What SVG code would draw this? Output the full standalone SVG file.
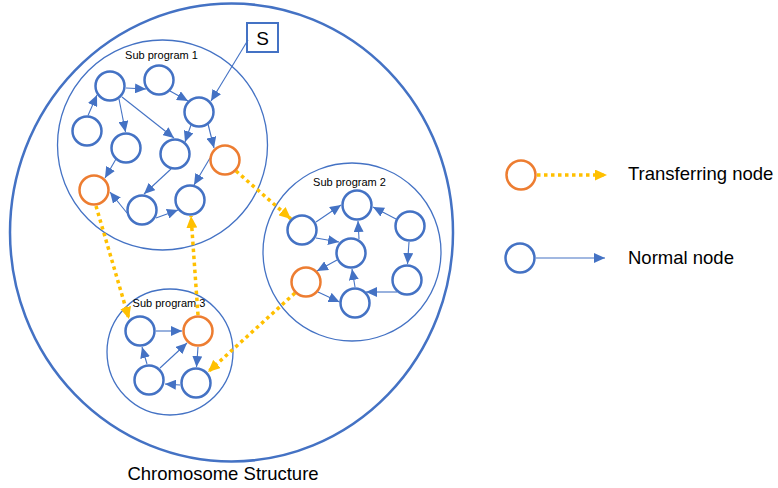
<svg xmlns="http://www.w3.org/2000/svg" width="778" height="488" viewBox="0 0 778 488">
  <style>
    .node { fill: #ffffff; stroke: #4472C4; stroke-width: 2.5; }
    .xfer { fill: #ffffff; stroke: #ED7D31; stroke-width: 2.5; }
    .sub { fill: none; stroke: #4472C4; stroke-width: 1.3; }
    .edge { fill: none; stroke: #4472C4; stroke-width: 1.1; marker-end: url(#arrow); }
    .dot { fill: none; stroke: #FFC000; stroke-width: 3.5; stroke-dasharray: 3.5 3.5; marker-end: url(#arrowY); }
    .lbl { font-family: "Liberation Sans", Arial, sans-serif; fill: #000000; }
  </style>
  <defs>
    <marker id="arrow" markerUnits="userSpaceOnUse" markerWidth="11" markerHeight="10" refX="11" refY="5" orient="auto">
      <path d="M0,0 L11,5 L0,10 Z" fill="#4472C4"/>
    </marker>
    <marker id="arrowY" markerUnits="userSpaceOnUse" markerWidth="12" markerHeight="11" refX="12" refY="5.5" orient="auto">
      <path d="M0,0 L12,5.5 L0,11 Z" fill="#FFC000"/>
    </marker>
  </defs>

  <rect width="778" height="488" fill="#ffffff"/>

  <!-- chromosome and sub-program boundaries -->
  <g id="chromosome">
    <ellipse cx="231.5" cy="232.5" rx="221.5" ry="229" fill="none" stroke="#4472C4" stroke-width="2.5"/>
    <text class="lbl" x="223" y="480" font-size="18.5" text-anchor="middle">Chromosome Structure</text>
  </g>
  <g id="sub1">
    <circle class="sub" cx="162.5" cy="145" r="105"/>
    <text class="lbl" x="161.5" y="59" font-size="11" text-anchor="middle">Sub program 1</text>
  </g>
  <g id="sub2">
    <circle class="sub" cx="352" cy="252" r="89"/>
    <text class="lbl" x="349.5" y="186" font-size="11" text-anchor="middle">Sub program 2</text>
  </g>
  <g id="sub3">
    <circle class="sub" cx="170" cy="352" r="63"/>
    <text class="lbl" x="169" y="307" font-size="11" text-anchor="middle">Sub program 3</text>
  </g>

  <!-- start box -->
  <g id="start">
    <rect x="247" y="23" width="31" height="29" fill="#ffffff" stroke="#4472C4" stroke-width="2"/>
    <text class="lbl" x="262.5" y="45" font-size="19" text-anchor="middle">S</text>
  </g>

  <!-- connectors -->
  <g id="connectors">
    <!-- sub program 1 -->
    <line class="edge" x1="88" y1="115.5" x2="97" y2="95"/>
    <line class="edge" x1="126" y1="88" x2="146" y2="89"/>
    <line class="edge" x1="170" y1="91" x2="188" y2="101"/>
    <line class="edge" x1="119" y1="99" x2="125.5" y2="132"/>
    <line class="edge" x1="122" y1="97" x2="174" y2="138"/>
    <line class="edge" x1="191" y1="125" x2="185" y2="142"/>
    <line class="edge" x1="208" y1="124" x2="214" y2="148"/>
    <line class="edge" x1="248" y1="40" x2="211" y2="101"/>
    <line class="edge" x1="116" y1="159" x2="105" y2="178"/>
    <line class="edge" x1="171" y1="169" x2="144" y2="194"/>
    <line class="edge" x1="210" y1="158" x2="194" y2="185"/>
    <line class="edge" x1="127" y1="213" x2="110" y2="192"/>
    <line class="edge" x1="156" y1="218" x2="178" y2="210"/>
    <!-- sub program 2 -->
    <line class="edge" x1="316" y1="222" x2="341" y2="205"/>
    <line class="edge" x1="316" y1="238" x2="339" y2="242"/>
    <line class="edge" x1="359" y1="239" x2="358" y2="221"/>
    <line class="edge" x1="396" y1="219" x2="373" y2="207"/>
    <line class="edge" x1="409" y1="242" x2="407.5" y2="264"/>
    <line class="edge" x1="397" y1="292" x2="366" y2="292"/>
    <line class="edge" x1="355" y1="287" x2="352" y2="269"/>
    <line class="edge" x1="337" y1="260" x2="317" y2="271"/>
    <line class="edge" x1="318" y1="292" x2="339.5" y2="302"/>
    <!-- sub program 3 -->
    <line class="edge" x1="156" y1="331" x2="182" y2="331"/>
    <line class="edge" x1="147" y1="364" x2="142" y2="347"/>
    <line class="edge" x1="160" y1="368" x2="187" y2="343"/>
    <line class="edge" x1="198" y1="347" x2="196.5" y2="367"/>
    <line class="edge" x1="180" y1="385" x2="165" y2="384"/>
    <!-- transfers between sub programs -->
    <line class="dot" x1="236" y1="171" x2="291" y2="219"/>
    <line class="dot" x1="96" y1="206" x2="129" y2="319"/>
    <line class="dot" x1="198" y1="315" x2="191" y2="216"/>
    <line class="dot" x1="295" y1="293" x2="208" y2="372"/>
    <!-- legend -->
    <line class="dot" x1="537" y1="175" x2="607" y2="175"/>
    <line class="edge" x1="536" y1="258" x2="605" y2="258"/>
  </g>

  <!-- sub program 1 nodes -->
  <g id="n1a"><circle class="node" cx="110" cy="86" r="14.5"/></g>
  <g id="n1b"><circle class="node" cx="159" cy="80" r="14.5"/></g>
  <g id="n1c"><circle class="node" cx="199" cy="112" r="14.5"/></g>
  <g id="n1d"><circle class="node" cx="87" cy="131" r="14.5"/></g>
  <g id="n1e"><circle class="node" cx="126" cy="148" r="14.5"/></g>
  <g id="n1f"><circle class="node" cx="175" cy="154" r="14.5"/></g>
  <g id="n1g"><circle class="xfer" cx="225" cy="160" r="14.5"/></g>
  <g id="n1h"><circle class="xfer" cx="94" cy="190" r="14.5"/></g>
  <g id="n1i"><circle class="node" cx="142" cy="210" r="14.5"/></g>
  <g id="n1j"><circle class="node" cx="190" cy="200" r="14.5"/></g>

  <!-- sub program 2 nodes -->
  <g id="n2k"><circle class="node" cx="302" cy="230" r="14.5"/></g>
  <g id="n2l"><circle class="node" cx="357" cy="205" r="14.5"/></g>
  <g id="n2m"><circle class="node" cx="351" cy="253" r="14.5"/></g>
  <g id="n2n"><circle class="node" cx="410" cy="226" r="14.5"/></g>
  <g id="n2o"><circle class="xfer" cx="306" cy="282" r="14.5"/></g>
  <g id="n2p"><circle class="node" cx="355" cy="303" r="14.5"/></g>
  <g id="n2q"><circle class="node" cx="407" cy="280" r="14.5"/></g>

  <!-- sub program 3 nodes -->
  <g id="n3r"><circle class="node" cx="140" cy="331" r="14.5"/></g>
  <g id="n3t"><circle class="xfer" cx="198" cy="331" r="14.5"/></g>
  <g id="n3u"><circle class="node" cx="149" cy="380" r="14.5"/></g>
  <g id="n3v"><circle class="node" cx="196" cy="383" r="14.5"/></g>

  <!-- legend -->
  <g id="legend-transfer">
    <circle class="xfer" cx="521" cy="175" r="14.5"/>
    <text class="lbl" x="628" y="180" font-size="18.5">Transferring node</text>
  </g>
  <g id="legend-normal">
    <circle class="node" cx="520" cy="258" r="14.5"/>
    <text class="lbl" x="628" y="264" font-size="18.5">Normal node</text>
  </g>
</svg>
